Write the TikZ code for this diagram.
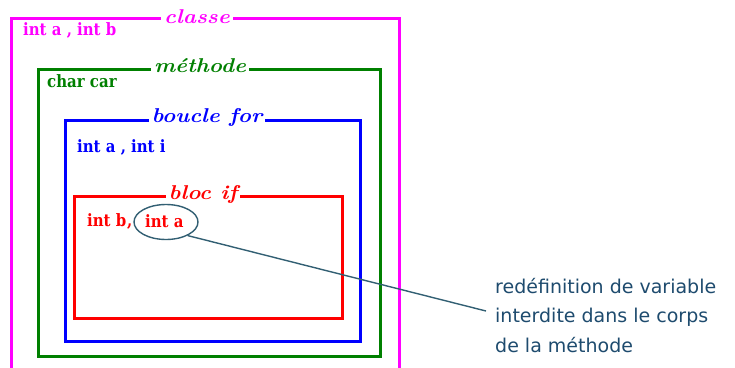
\documentclass[tikz,border=0pt]{standalone}
\usepackage{fontspec}
\usetikzlibrary{shapes.geometric}
\newfontfamily\notefont{DejaVu Sans}
\newfontfamily\varfont{DejaVu Serif}
\definecolor{cmag}{RGB}{255,0,255}
\definecolor{cgreen}{RGB}{0,128,0}
\definecolor{cblue}{RGB}{0,0,255}
\definecolor{cred}{RGB}{255,0,0}
\definecolor{cnote}{RGB}{30,75,110}
\definecolor{cline}{RGB}{50,95,115}
\begin{document}
\begin{tikzpicture}[x=1pt,y=-1pt,
  frame/.style={line width=3pt},
  boxtitle/.style={fill=white,inner sep=2.5pt,xscale=1.12,font=\fontsize{20}{20}\selectfont\bfseries\itshape},
  varlabel/.style={anchor=west,inner sep=0pt,xscale=0.88,font=\varfont\fontsize{17}{17}\selectfont\bfseries},
  note/.style={anchor=north west,inner sep=0pt,align=left,text=cnote,font=\notefont\fontsize{19}{29.5}\selectfont},
]
\useasboundingbox (0,0) rectangle (735,367);
% class frame (open at bottom)
\draw[frame,cmag] (11,370) -- (11,18) -- (399,18) -- (399,370);
\node[boxtitle,text=cmag] (tclasse) at (197,17) {classe};
\node[varlabel,text=cmag] (vclasse) at (23,30) {int a , int b};
% method frame
\draw[frame,cgreen] (38,69) rectangle (380,356);
\node[boxtitle,text=cgreen] (tmethode) at (200,66) {méthode};
\node[varlabel,text=cgreen] (vmethode) at (47,81) {char car};
% for frame
\draw[frame,cblue] (65,120) rectangle (360,341);
\node[boxtitle,text=cblue] (tfor) at (207,117) {boucle for};
\node[varlabel,text=cblue] (vfor) at (77,147) {int a , int i};
% if frame
\draw[frame,cred] (74,196) rectangle (342,318);
\node[boxtitle,text=cred] (tif) at (203,194) {bloc if};
\node[varlabel,text=cred] (vifb) at (87,221) {int b\kern1pt,};
\node[varlabel,text=cred] (vifa) at (145,221) {int a};
% ellipse and connector
\node[draw=cline,line width=1.4pt,ellipse,minimum width=64pt,minimum height=35pt,inner sep=0pt] (ell) at (166,222) {};
\coordinate (noteend) at (486,311);
\draw[cline,line width=1.4pt] (ell.-32) -- (noteend);
\node[note] (notetxt) at (495,278) {redéfinition de variable\\interdite dans le corps\\de la méthode};
\end{tikzpicture}
\end{document}
